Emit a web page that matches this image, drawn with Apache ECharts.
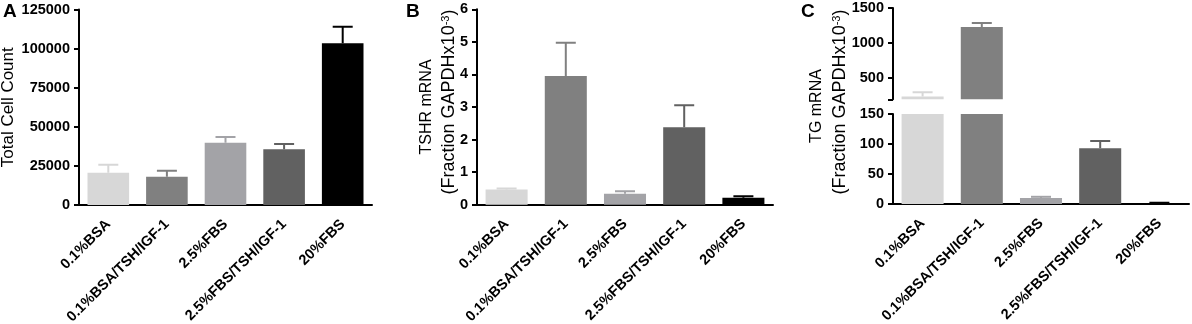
<!DOCTYPE html>
<html>
<head>
<meta charset="utf-8">
<script src="https://cdn.jsdelivr.net/npm/echarts@6/dist/echarts.min.js"></script>
<style>
    html, body { margin: 0; padding: 0; background: #fff; }
    #chart { width: 1192px; height: 324px; }
</style>
</head>
<body>
<div id="chart"></div>
<script>
// groups (x axis)
const categories = ['0.1%BSA', '0.1%BSA/TSH/IGF-1', '2.5%FBS', '2.5%FBS/TSH/IGF-1', '20%FBS'];

// A - total cell count (mean / SEM)
const cellCount = [20600, 18100, 39800, 35600, 103400];
const cellCountErr = [5100, 3800, 3700, 3400, 10600];

// B - TSHR mRNA, fraction GAPDH x10^-3
const tshr = [0.47, 3.95, 0.34, 2.38, 0.21];
const tshrErr = [0.03, 1.02, 0.07, 0.67, 0.05];

// C - TG mRNA, fraction GAPDH x10^-3 (broken axis)
const tg = [240, 1230, 10, 93, 1.5];
const tgErr = [60, 55, 2, 12, 0.6];

// tick labels of the upper part of the broken axis
const tgUpperTicks = [200, 500, 1000, 1500];
const tgUpperLabels = [500, 1000, 1500];

const FONT = '"Liberation Sans", Arial, sans-serif';
const barColors = ['#d7d7d7', '#808080', '#a3a3a7', '#616161', '#000000'];

const chart = echarts.init(document.getElementById('chart'), null, { renderer: 'canvas' });

function xAxisFor(gridIndex, show) {
    return {
        type: 'category',
        gridIndex: gridIndex,
        data: categories,
        show: show,
        axisLine: { lineStyle: { color: '#000', width: 2 } },
        axisTick: { show: false },
        axisLabel: {
            rotate: 45, interval: 0, margin: 17,
            color: '#000', fontSize: 14.5, fontWeight: 'bold', fontFamily: FONT
        }
    };
}

function yAxisFor(gridIndex, min, max, extra) {
    return Object.assign({
        type: 'value',
        gridIndex: gridIndex,
        min: min,
        max: max,
        splitLine: { show: false },
        axisLine: { show: true, lineStyle: { color: '#000', width: 2 } },
        axisTick: { show: true, length: 5, lineStyle: { color: '#000', width: 2 } },
        axisLabel: {
            color: '#000', fontSize: 14.5, fontWeight: 'bold', fontFamily: FONT, margin: 9,
            formatter: v => String(v)
        }
    }, extra || {});
}

// two-line y titles of B and C
const titleRich = {
    b: { fontSize: 18, fontFamily: FONT, color: '#000' },
    s: { fontSize: 11, fontFamily: FONT, color: '#000', verticalAlign: 'top', lineHeight: 12 }
};

function titleLine(text, x, y, rich) {
    return {
        type: 'text', x: x, y: y, rotation: Math.PI / 2,
        style: {
            text: text, rich: rich, align: 'center', verticalAlign: 'middle',
            fill: '#000', font: '16px ' + FONT
        }
    };
}

function barSeries(axisIndex, values) {
    return {
        type: 'bar',
        xAxisIndex: axisIndex,
        yAxisIndex: axisIndex,
        barWidth: '71%',
        clip: true,
        data: values.map((v, i) => ({ value: v, itemStyle: { color: barColors[i] } }))
    };
}

function errSeries(axisIndex, values, errs) {
    return {
        type: 'custom',
        xAxisIndex: axisIndex,
        yAxisIndex: axisIndex,
        clip: true,
        z: 1,
        data: values.map((v, i) => [i, v, v + errs[i]]),
        renderItem: function (params, api) {
            const i = api.value(0);
            const base = api.coord([i, api.value(1)]);
            const top = api.coord([i, api.value(2)]);
            const color = barColors[i];
            return {
                type: 'group',
                children: [
                    { type: 'line', shape: { x1: base[0], y1: base[1], x2: top[0], y2: top[1] },
                      style: { stroke: color, lineWidth: 2 } },
                    { type: 'line', shape: { x1: top[0] - 10, y1: top[1], x2: top[0] + 10, y2: top[1] },
                      style: { stroke: color, lineWidth: 2 } }
                ]
            };
        }
    };
}

const options = {
    animation: false,
    grid: [
        { left: 79, top: 9.5, width: 293, height: 195.5, outerBoundsMode: 'none' },
        { left: 477, top: 9.3, width: 296, height: 195.4, outerBoundsMode: 'none' },
        { left: 893, top: 8, width: 296, height: 91.3, outerBoundsMode: 'none' },
        { left: 893, top: 114, width: 296, height: 90, outerBoundsMode: 'none' }
    ],
    xAxis: [
        xAxisFor(0, true),
        xAxisFor(1, true),
        xAxisFor(2, false),
        xAxisFor(3, true)
    ],
    yAxis: [
        yAxisFor(0, 0, 125000, {
            interval: 25000,
            name: 'Total Cell Count', nameLocation: 'middle', nameGap: 62,
            nameTextStyle: { fontSize: 17, fontFamily: FONT, color: '#000' }
        }),
        yAxisFor(1, 0, 6, { interval: 1 }),
        yAxisFor(2, 200, 1500, {
            axisTick: { show: true, length: 5, lineStyle: { color: '#000', width: 2 }, customValues: tgUpperTicks },
            axisLabel: {
                color: '#000', fontSize: 14.5, fontWeight: 'bold', fontFamily: FONT, margin: 9,
                customValues: tgUpperLabels, formatter: v => String(v)
            }
        }),
        yAxisFor(3, 0, 150, { interval: 50 })
    ],
    graphic: [
        { type: 'text', left: 3, top: 2, style: { text: 'A', font: 'bold 19px ' + FONT, fill: '#000' } },
        { type: 'text', left: 406, top: 2, style: { text: 'B', font: 'bold 19px ' + FONT, fill: '#000' } },
        { type: 'text', left: 801, top: 2, style: { text: 'C', font: 'bold 19px ' + FONT, fill: '#000' } },
        titleLine('TSHR mRNA', 427, 107),
        titleLine('{b|(Fraction GAPDHx10}{s|-3}{b|)}', 449, 102, titleRich),
        titleLine('TG mRNA', 817, 106),
        titleLine('{b|(Fraction GAPDHx10}{s|-3}{b|)}', 840, 102, titleRich)
    ],
    series: [
        barSeries(0, cellCount), errSeries(0, cellCount, cellCountErr),
        barSeries(1, tshr), errSeries(1, tshr, tshrErr),
        barSeries(2, tg), errSeries(2, tg, tgErr),
        barSeries(3, tg), errSeries(3, tg, tgErr)
    ]
};

chart.setOption(options);
</script>
</body>
</html>
